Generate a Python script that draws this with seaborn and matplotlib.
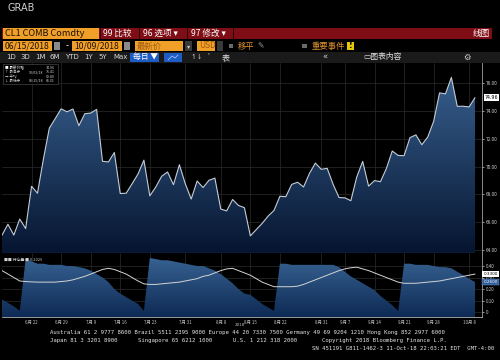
import numpy as np
import pandas as pd
import matplotlib
matplotlib.use("Agg")
import matplotlib.pyplot as plt
import seaborn as sns
from matplotlib.patches import Rectangle
from matplotlib.colors import LinearSegmentedColormap
from matplotlib.lines import Line2D

# ---------------- data ----------------
start_date = "2018-06-15"
end_date = "2018-10-09"
holidays = ["2018-07-04", "2018-09-03"]

price = [65.06, 65.85, 65.07, 66.22, 65.54, 68.58, 68.08, 70.53, 72.76, 73.45,
         74.15, 73.94, 74.14, 72.94, 73.80, 73.85, 74.11, 70.38, 70.33, 71.01,
         68.06, 68.08, 68.76, 69.46, 70.46, 67.89, 68.52, 69.30, 69.61, 68.69,
         70.13, 68.76, 67.66, 68.96, 68.49, 69.01, 69.17, 66.94, 66.81, 67.63,
         67.20, 67.04, 65.01, 65.46, 65.91, 66.43, 66.84, 67.86, 67.83, 68.72,
         68.87, 68.53, 69.51, 70.25, 69.80, 69.87, 68.72, 67.77, 67.75, 67.54,
         69.25, 70.37, 68.59, 68.99, 68.91, 69.85, 71.12, 70.80, 70.78, 72.08,
         72.28, 71.57, 72.12, 73.25, 75.30, 75.23, 76.41, 74.33, 74.34, 74.29,
         74.96]

lower_area = [0.11, 0.08, 0.05, 0.01, 0.46, 0.44, 0.42, 0.42, 0.41, 0.41,
              0.41, 0.40, 0.40, 0.39, 0.38, 0.36, 0.33, 0.30, 0.26, 0.20,
              0.16, 0.13, 0.10, 0.07, 0.01, 0.47, 0.46, 0.45, 0.45, 0.44,
              0.43, 0.42, 0.41, 0.40, 0.40, 0.38, 0.36, 0.33, 0.29, 0.25,
              0.20, 0.16, 0.15, 0.11, 0.07, 0.04, 0.01, 0.42, 0.42, 0.41,
              0.41, 0.41, 0.41, 0.41, 0.41, 0.41, 0.41, 0.39, 0.35, 0.31,
              0.28, 0.25, 0.22, 0.19, 0.14, 0.10, 0.06, 0.01, 0.42, 0.42,
              0.41, 0.41, 0.41, 0.40, 0.39, 0.39, 0.38, 0.35, 0.32, 0.29,
              0.26]

lower_line = [0.36, 0.33, 0.30, 0.27, 0.265, 0.262, 0.26, 0.26, 0.26, 0.26,
              0.265, 0.27, 0.28, 0.295, 0.31, 0.33, 0.35, 0.37, 0.38, 0.37,
              0.35, 0.33, 0.30, 0.27, 0.245, 0.24, 0.24, 0.245, 0.25, 0.255,
              0.26, 0.27, 0.28, 0.29, 0.31, 0.32, 0.34, 0.36, 0.375, 0.38,
              0.36, 0.34, 0.32, 0.29, 0.26, 0.24, 0.22, 0.22, 0.22, 0.22,
              0.225, 0.24, 0.26, 0.28, 0.30, 0.32, 0.34, 0.36, 0.375, 0.385,
              0.39, 0.375, 0.36, 0.34, 0.32, 0.30, 0.28, 0.26, 0.25, 0.25,
              0.25, 0.255, 0.26, 0.265, 0.27, 0.28, 0.29, 0.30, 0.31, 0.32,
              0.33]

tick_dates = ["2018-06-22", "2018-06-29", "2018-07-09", "2018-07-16", "2018-07-23",
              "2018-07-31", "2018-08-08", "2018-08-15", "2018-08-22", "2018-08-31",
              "2018-09-07", "2018-09-14", "2018-09-21", "2018-09-28", "2018-10-08"]
price_ticks = [64, 66, 68, 70, 72, 74, 76]
lower_ticks = [0, 0.1, 0.2, 0.3, 0.4]
lower_tick_labels = ["0", "0.10", "0.20", "0.30", "0.40"]
lower_legend_value = "0.2029"

# ---------------- setup ----------------
sns.set_theme(style="dark")
plt.rcParams["font.family"] = ["Noto Sans CJK SC", "DejaVu Sans"]
plt.rcParams["axes.unicode_minus"] = False

dates = pd.bdate_range(start_date, end_date).drop(pd.to_datetime(holidays))
idx = np.arange(len(dates))
tick_idx = [dates.get_loc(pd.Timestamp(d)) for d in tick_dates]
tick_labels = [f"{pd.Timestamp(d).month}月 {pd.Timestamp(d).day}" for d in tick_dates]

W, H = 500, 360
fig = plt.figure(figsize=(W / 100, H / 100), dpi=100, facecolor="black")


def fx(x):
    return x / W


def fy(y):
    return 1 - y / H


def rect(x0, y0, x1, y1, color, ec="none", lw=0, z=1):
    fig.patches.append(Rectangle((fx(x0), fy(y1)), (x1 - x0) / W, (y1 - y0) / H,
                                 transform=fig.transFigure, facecolor=color,
                                 edgecolor=ec, linewidth=lw, zorder=z))


def text(x, y, s, size, color, ha="left", va="center", **kw):
    fig.text(fx(x), fy(y), s, fontsize=size, color=color, ha=ha, va=va, **kw)


def gradient_fill(ax, x, y, c_top, c_bot):
    x0, x1 = ax.get_xlim()
    y0, y1 = ax.get_ylim()
    poly = ax.fill_between(x, y, y0, facecolor="none", edgecolor="none")
    cmap = LinearSegmentedColormap.from_list("g", [c_bot, c_top])
    grad = np.linspace(0, 1, 256).reshape(-1, 1)
    im = ax.imshow(grad, cmap=cmap, aspect="auto", extent=[x0, x1, y0, y1],
                   origin="lower", zorder=1, interpolation="bicubic")
    im.set_clip_path(poly.get_paths()[0], transform=ax.transData)
    ax.set_xlim(x0, x1)
    ax.set_ylim(y0, y1)


# ---------------- header ----------------
text(8, 8, "GRAB", 7, "#d0d0d0", family=["DejaVu Sans"])

# row 1
rect(2, 28, 492, 39, "#7e0d15")
rect(3, 28.5, 99, 38.5, "#f0a028")
text(5, 33.5, "CL1 COMB Comdty", 6.6, "#201000")
for xs in (100, 139, 187, 233):
    rect(xs, 28, xs + 0.8, 39, "#2a0004")
text(103, 33.5, "99 比较", 6.2, "white")
text(143, 33.5, "96 选项 ▾", 6.2, "white")
text(191, 33.5, "97 修改 ▾", 6.2, "white")
text(490, 33.5, "线图", 6.2, "white", ha="right")

# row 2
rect(3, 41.5, 52, 50.5, "#f0a028")
text(5, 46, "06/15/2018", 6.2, "#201000")
rect(53.5, 42.5, 59.5, 49.5, "#8a8a8a")
text(67, 46, "-", 6, "white", ha="center")
rect(72, 41.5, 122, 50.5, "#f0a028")
text(74, 46, "10/09/2018", 6.2, "#201000")
rect(123.5, 42.5, 129.5, 49.5, "#8a8a8a")
rect(135, 41.5, 183, 50.5, "#f0a028")
text(137, 46, "最新价", 6.0, "#a05a10")
rect(185, 41.5, 192, 50.5, "#3a3a3a")
text(188.5, 46, "▾", 4.5, "#cccccc", ha="center")
rect(197, 41.5, 215, 50.5, "#f0a028")
text(199, 46, "USD", 6.0, "#a05a10")
rect(216.5, 41.5, 222.5, 50.5, "#3a3a3a")
rect(228.5, 43.5, 233, 48, "#6a6a6a")
text(238, 46, "移平", 6.0, "#e09030")
text(257, 46, "✎", 5.5, "#9a9a9a", family=["DejaVu Sans"])
rect(302, 43.5, 306.5, 48, "#6a6a6a")
text(312, 46, "重要事件", 6.0, "#e09030")
rect(347, 41.8, 354, 50, "#e8c800")
text(350.5, 46, "!", 5.5, "black", ha="center", weight="bold", family=["DejaVu Sans"])

# row 3
rect(0, 52, 500, 62.5, "#1a1a1a")
for xs, s in [(6, "1D"), (20, "3D"), (35, "1M"), (50, "6M"), (65, "YTD"),
              (84, "1Y"), (98, "5Y"), (113, "Max")]:
    text(xs, 57.3, s, 5.0, "#d8d8d8", family=["DejaVu Sans"])
rect(130, 52.8, 159, 61.8, "#1d5cc4")
text(133, 57.3, "每日 ▼", 5.6, "white")
rect(164, 52.8, 182, 61.8, "#1d5cc4")
fig.lines.append(Line2D([fx(168), fx(172), fx(175), fx(178)], [fy(60), fy(56), fy(58), fy(55)],
                        transform=fig.transFigure, color="#9cc0ff", lw=0.6))
text(190, 57.3, "↿⇂", 5.2, "#d0d0d0", family=["DejaVu Sans"])
text(207, 57.3, "'", 5.0, "#d0d0d0")
text(222, 57.3, "表", 5.8, "#e0e0e0")
text(322, 57.3, "«", 6.0, "#d0d0d0", family=["DejaVu Sans"])
text(363, 57.3, "▭图表内容", 5.6, "#e0e0e0")
text(463, 57.3, "⚙", 6.0, "#d0d0d0", family=["DejaVu Sans"])

# ---------------- main price panel ----------------
ax = fig.add_axes([fx(2), fy(253), 480 / W, 190 / H])
ax.set_facecolor("black")
ax.set_xlim(0, 81.18)
ax.set_ylim(63.78, 77.45)
gradient_fill(ax, idx, price, "#3a6494", "#061530")
sns.lineplot(x=idx, y=price, ax=ax, color="#c4ccd6", lw=0.8, zorder=3)
ax.set_xlim(0, 81.18)
ax.set_ylim(63.78, 77.45)
ax.set_xticks(tick_idx)
ax.set_yticks(price_ticks)
ax.set_yticklabels([f"{v:.2f}" for v in price_ticks])
ax.yaxis.tick_right()
ax.tick_params(axis="x", length=0, labelbottom=False)
ax.tick_params(axis="y", length=1.5, width=0.5, colors="#cfcfcf", labelsize=3.4, pad=1.5,
               right=True, left=False)
ax.grid(True, color="#2c2c2c", lw=0.5)
ax.set_axisbelow(True)
for s in ("left", "top"):
    ax.spines[s].set_visible(False)
ax.spines["right"].set_color("#a0a0a0")
ax.spines["right"].set_linewidth(0.6)
ax.spines["bottom"].set_color("#5a5a5a")
ax.spines["bottom"].set_linewidth(0.8)
ax.set_xlabel("")
ax.set_ylabel("")
ax.annotate(f"{price[-1]:.2f}", xy=(1.0, price[-1]), xycoords=("axes fraction", "data"),
            xytext=(2, 0), textcoords="offset points", fontsize=3.4, color="black",
            va="center", ha="left", family=["DejaVu Sans"],
            bbox=dict(boxstyle="square,pad=0.25", fc="white", ec="none"))

# legend box (main)
pmax = max(price)
pmin = min(price)
dmax = dates[int(np.argmax(price))].strftime("%m/%d/%y")
dmin = dates[int(np.argmin(price))].strftime("%m/%d/%y")
rect(3, 64, 58, 84, "black", ec="#555555", lw=0.4, z=5)
leg_rows = [("■ 最新价格", "", f"{price[-1]:.2f}", "#ffffff"),
            ("↑ 最高于", dmax, f"{pmax:.2f}", "#cfcfcf"),
            ("→ 平均", "", f"{np.mean(price):.2f}", "#cfcfcf"),
            ("↓ 最低于", dmin, f"{pmin:.2f}", "#cfcfcf")]
for k, (a, b, c, col) in enumerate(leg_rows):
    yy = 68 + k * 4.3
    fig.text(fx(5), fy(yy), a, fontsize=2.6, color=col, va="center", zorder=6)
    fig.text(fx(29), fy(yy), b, fontsize=2.6, color="#cfcfcf", va="center", zorder=6)
    fig.text(fx(55), fy(yy), c, fontsize=2.6, color="#cfcfcf", va="center", ha="right", zorder=6)

# ---------------- lower panel ----------------
ax2 = fig.add_axes([fx(2), fy(317), 480 / W, 64 / H])
ax2.set_facecolor("black")
ax2.set_xlim(0, 81.18)
ax2.set_ylim(-0.043, 0.513)
gradient_fill(ax2, idx, lower_area, "#3a6696", "#0e2a55")
sns.lineplot(x=idx, y=lower_line, ax=ax2, color="#d4d4d4", lw=0.7, zorder=3)
ax2.set_xlim(0, 81.18)
ax2.set_ylim(-0.043, 0.513)
ax2.set_xticks(tick_idx)
ax2.set_xticklabels(tick_labels)
ax2.set_yticks(lower_ticks)
ax2.set_yticklabels(lower_tick_labels)
ax2.yaxis.tick_right()
ax2.tick_params(axis="x", length=1.5, width=0.5, colors="#c0c0c0", labelsize=3.2, pad=1)
ax2.tick_params(axis="y", length=1.5, width=0.5, colors="#cfcfcf", labelsize=3.2, pad=1.5,
                right=True, left=False)
ax2.grid(True, color="#2c2c2c", lw=0.5)
ax2.set_axisbelow(True)
for s in ("left", "top"):
    ax2.spines[s].set_visible(False)
ax2.spines["right"].set_color("#a0a0a0")
ax2.spines["right"].set_linewidth(0.6)
ax2.spines["bottom"].set_color("#b0b0b0")
ax2.spines["bottom"].set_linewidth(0.6)
ax2.set_xlabel("")
ax2.set_ylabel("")
ax2.annotate(f"{lower_line[-1]:.4f}", xy=(1.0, lower_line[-1]),
             xycoords=("axes fraction", "data"), xytext=(1, 0), textcoords="offset points",
             fontsize=3, color="black", va="center", ha="left", family=["DejaVu Sans"],
             bbox=dict(boxstyle="square,pad=0.25", fc="white", ec="none"))
ax2.annotate(f"{lower_area[-1]:.4f}", xy=(1.0, lower_area[-1]),
             xycoords=("axes fraction", "data"), xytext=(1, 0), textcoords="offset points",
             fontsize=3, color="white", va="center", ha="left", family=["DejaVu Sans"],
             bbox=dict(boxstyle="square,pad=0.25", fc="#2f5d9c", ec="#7fa4d8", lw=0.3))
text(4, 259.5, "■■ 持仓量 ■ " + lower_legend_value, 2.8, "#d0d0d0")
text(240, 325, "2018", 3, "#c0c0c0", ha="center", family=["DejaVu Sans"])

# ---------------- footer ----------------
mono = dict(family=["DejaVu Sans Mono"])
fs = 4.1
fc = "#e6e6e6"
text(50, 332.5, "Australia 61 2 9777 8600 Brazil 5511 2395 9000 Europe 44 20 7330 7500 "
     "Germany 49 69 9204 1210 Hong Kong 852 2977 6000", fs, fc, **mono)
text(50, 340.5, "Japan 81 3 3201 8900", fs, fc, **mono)
text(138, 340.5, "Singapore 65 6212 1000", fs, fc, **mono)
text(233, 340.5, "U.S. 1 212 318 2000", fs, fc, **mono)
text(322, 340.5, "Copyright 2018 Bloomberg Finance L.P.", fs, fc, **mono)
text(312, 348.5, "SN 451191 G811-1462-3 11-Oct-18 22:03:21 EDT  GMT-4:00", fs, fc, **mono)

fig.savefig("out.png", dpi=100, facecolor="black")
